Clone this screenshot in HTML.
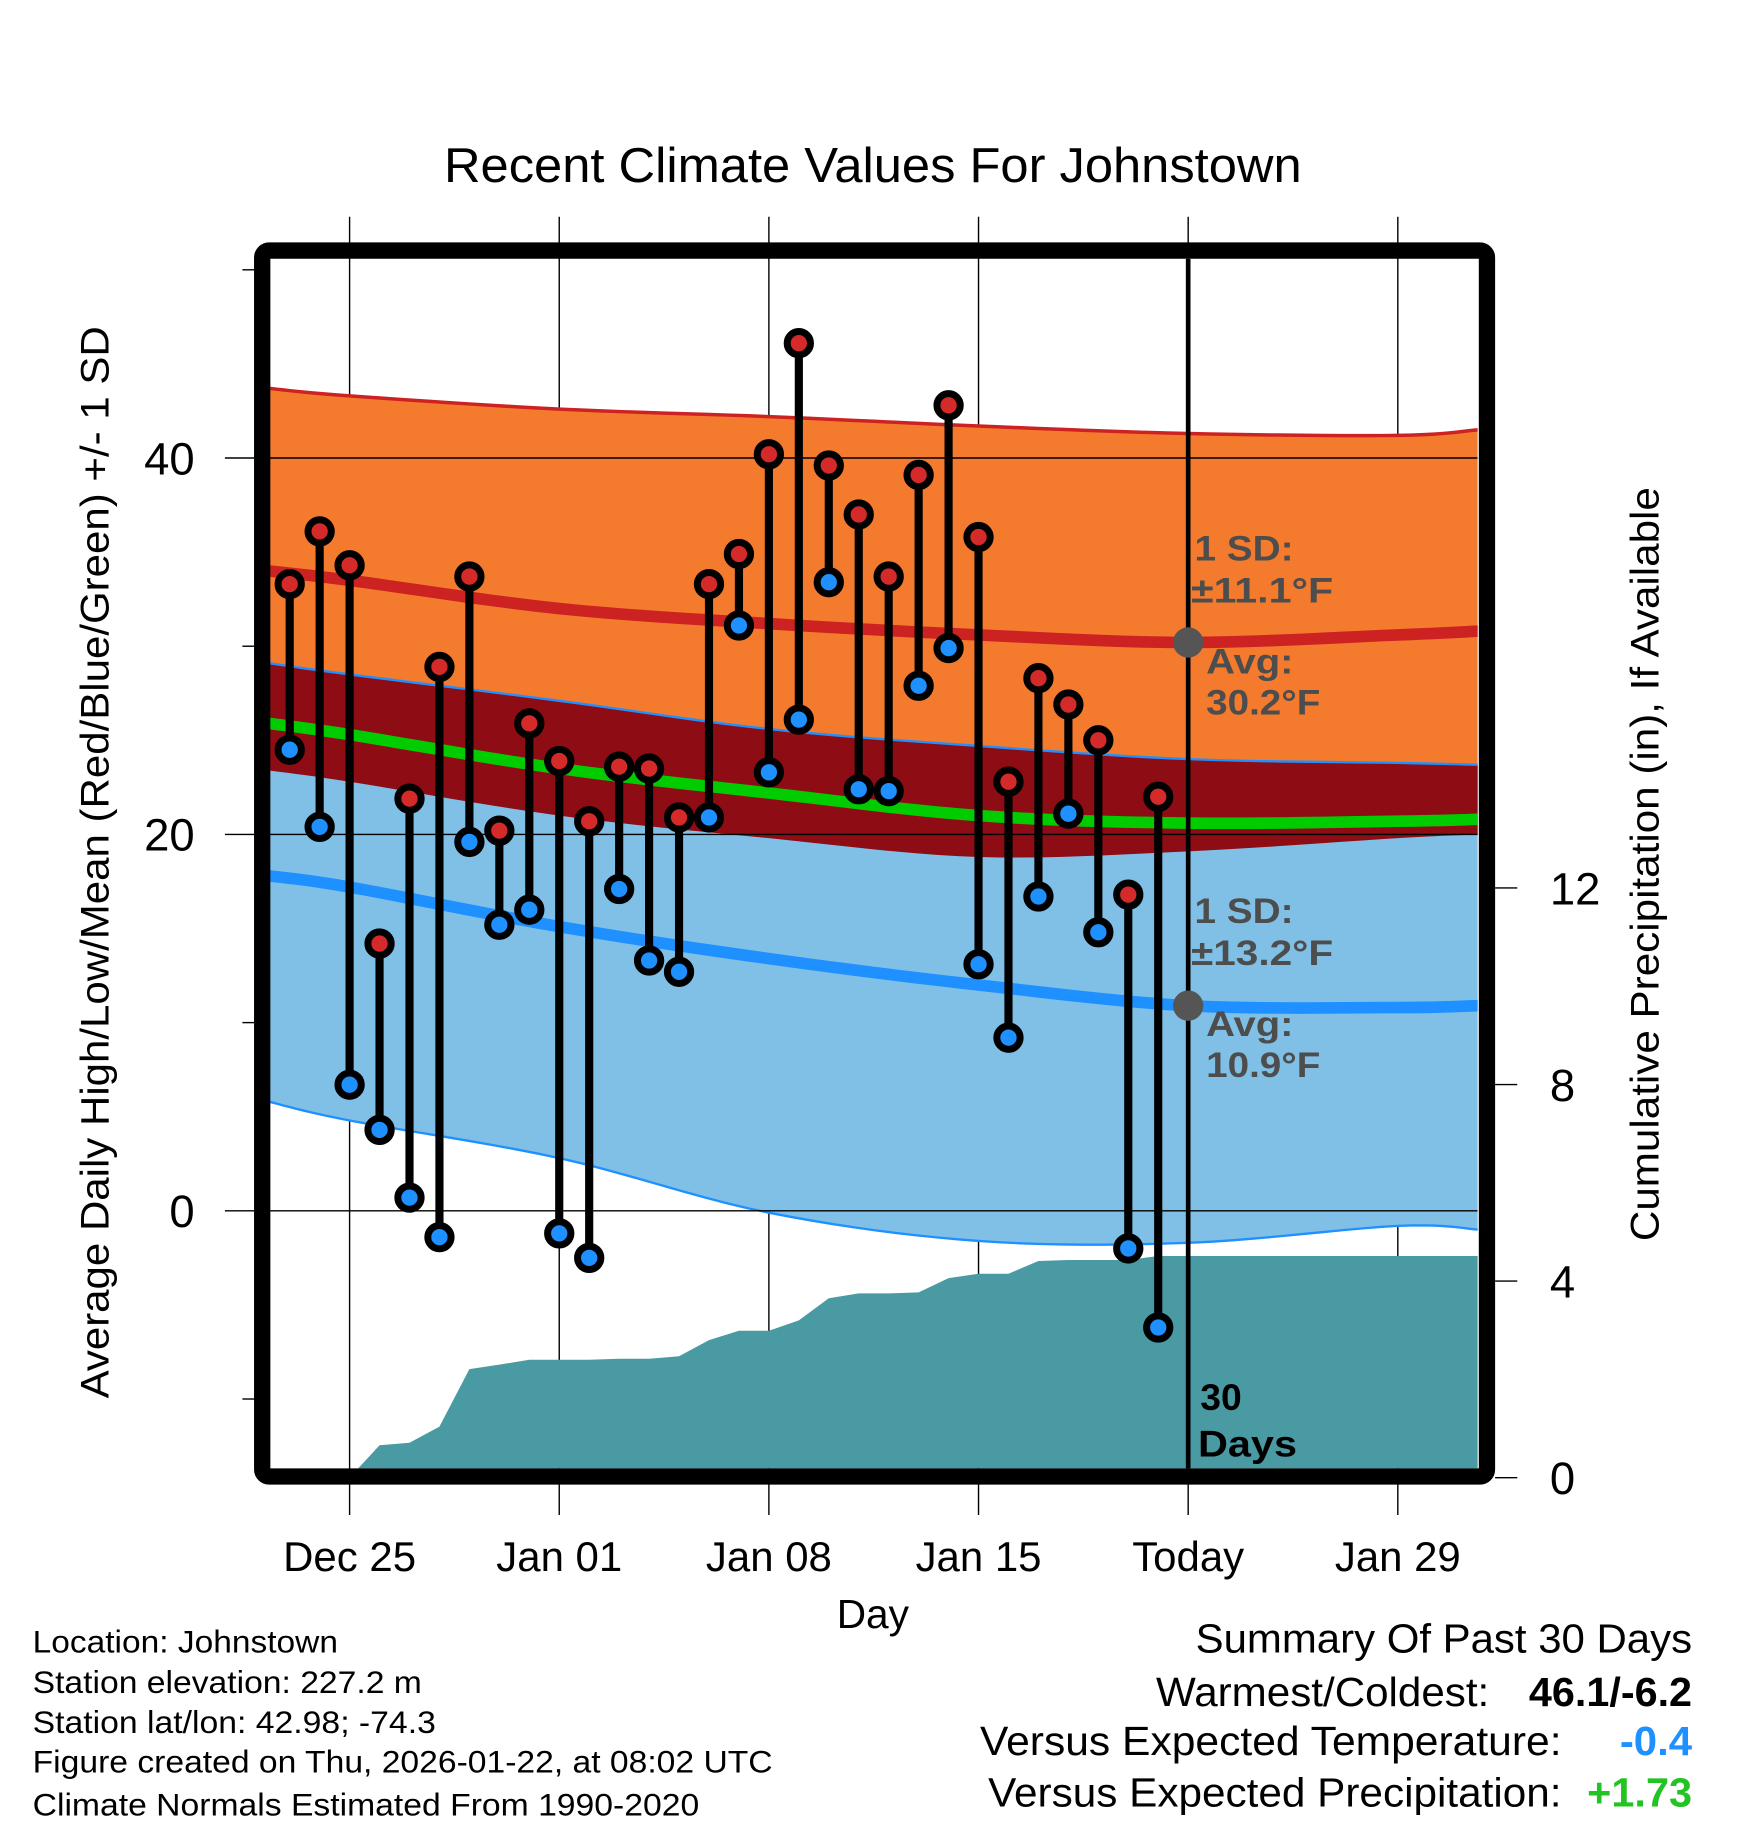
<!DOCTYPE html>
<html><head><meta charset="utf-8">
<style>
html,body{margin:0;padding:0;background:#fff;}
svg{display:block;font-family:"Liberation Sans",Arial,sans-serif;}
</style></head>
<body>
<svg id="chart" width="1748" height="1828" viewBox="0 0 1500 1568.6" xmlns="http://www.w3.org/2000/svg">
<defs><clipPath id="plotClip"><rect x="231" y="222" width="1037" height="1038"/></clipPath></defs>
<rect x="0" y="0" width="1500" height="1568.6" fill="#fff"/>
<text x="381" y="156" font-size="42" textLength="736" lengthAdjust="spacingAndGlyphs">Recent Climate Values For Johnstown</text>
<g id="grid"></g>
<g id="plot" clip-path="url(#plotClip)"></g>
<rect x="225" y="215" width="1051" height="1052" fill="none" stroke="#000" stroke-width="14" rx="6"/>
<g id="axes"></g>
<text transform="translate(93,1200) rotate(-90)" font-size="34" textLength="920" lengthAdjust="spacingAndGlyphs">Average Daily High/Low/Mean (Red/Blue/Green) +/- 1 SD</text>
<text transform="translate(1423,1065) rotate(-90)" font-size="34" textLength="647" lengthAdjust="spacingAndGlyphs">Cumulative Precipitation (in), If Available</text>
<text x="718" y="1397" font-size="35" textLength="62" lengthAdjust="spacingAndGlyphs">Day</text>
<g font-size="27">
<text x="28" y="1418" textLength="262" lengthAdjust="spacingAndGlyphs">Location: Johnstown</text>
<text x="28" y="1453" textLength="334" lengthAdjust="spacingAndGlyphs">Station elevation: 227.2 m</text>
<text x="28" y="1487" textLength="346" lengthAdjust="spacingAndGlyphs">Station lat/lon: 42.98; -74.3</text>
<text x="28" y="1521" textLength="635" lengthAdjust="spacingAndGlyphs">Figure created on Thu, 2026-01-22, at 08:02 UTC</text>
<text x="28" y="1558" textLength="572" lengthAdjust="spacingAndGlyphs">Climate Normals Estimated From 1990-2020</text>
</g>
<g font-size="35">
<text x="1026" y="1418" textLength="426" lengthAdjust="spacingAndGlyphs">Summary Of Past 30 Days</text>
<text x="992" y="1464" textLength="286" lengthAdjust="spacingAndGlyphs">Warmest/Coldest:</text>
<text x="1312" y="1464" font-weight="bold" textLength="140" lengthAdjust="spacingAndGlyphs">46.1/-6.2</text>
<text x="841" y="1506" textLength="499" lengthAdjust="spacingAndGlyphs">Versus Expected Temperature:</text>
<text x="1390" y="1506" font-weight="bold" fill="#1e90ff" textLength="62" lengthAdjust="spacingAndGlyphs">-0.4</text>
<text x="848" y="1550" textLength="492" lengthAdjust="spacingAndGlyphs">Versus Expected Precipitation:</text>
<text x="1362" y="1550" font-weight="bold" fill="#22c322" textLength="90" lengthAdjust="spacingAndGlyphs">+1.73</text>
</g>
</svg>
<script>
const highs=[33.3,36.1,34.3,14.2,21.9,28.9,33.7,20.2,25.9,23.9,20.7,23.6,23.5,20.9,33.3,34.9,40.2,46.1,39.6,37.0,33.7,39.1,42.8,35.8,22.8,28.3,26.9,25.0,16.8,22.0];
const lows=[24.5,20.4,6.7,4.3,0.7,-1.4,19.6,15.2,16.0,-1.2,-2.5,17.1,13.3,12.7,20.9,31.1,23.3,26.1,33.4,22.4,22.3,27.9,29.9,13.1,9.2,16.7,21.1,14.8,-2.0,-6.2];
const precip=[0,0,0,0.66,0.71,1.04,2.21,2.30,2.40,2.40,2.40,2.42,2.42,2.47,2.80,2.99,2.99,3.20,3.65,3.75,3.75,3.77,4.06,4.15,4.15,4.41,4.43,4.43,4.43,4.51,4.51];
const normDays=[-2.7,0,7,14,21,28,35,37.7];
const highUpper=[43.7,43.3,42.6,42.2,41.7,41.3,41.2,41.5];
const highAvg=[34.0,33.5,32.0,31.2,30.6,30.2,30.6,30.8];
const highLower=[23.4,22.8,21.0,19.8,18.8,19.1,19.8,20.0];
const lowUpper=[29.1,28.5,27.1,25.6,24.7,24.0,23.8,23.7];
const lowAvg=[17.8,17.2,15.1,13.4,12.0,10.9,10.8,10.9];
const lowLower=[5.8,4.8,2.8,-0.1,-1.6,-1.7,-0.8,-1.0];
const meanAvg=[25.9,25.3,23.5,22.2,21.0,20.6,20.7,20.8];
const xTickDays=[0,7,14,21,28,35];
const xTickLabels=["Dec 25","Jan 01","Jan 08","Jan 15","Today","Jan 29"];
const yTicks=[40,20,0];
const yMinorTicks=[50,30,10,-10];
const pTicks=[0,4,8,12];
const todayDay=28;

const NS="http://www.w3.org/2000/svg";
const X=d=>300+d*25.7;
const Y=t=>1039-t*16.15;
const P=p=>1268-p*42.17;
function mk(parent,tag,attrs){const e=document.createElementNS(NS,tag);for(const k in attrs)e.setAttribute(k,attrs[k]);parent.appendChild(e);return e;}
const plot=document.getElementById('plot'),grid=document.getElementById('grid'),axes=document.getElementById('axes');
// smooth interpolation (Catmull-Rom) through normal knots
function smoothPts(arr){
  const out=[];const n=normDays.length;
  for(let i=0;i<n-1;i++){
    const p0=[normDays[Math.max(i-1,0)],arr[Math.max(i-1,0)]],p1=[normDays[i],arr[i]],p2=[normDays[i+1],arr[i+1]],p3=[normDays[Math.min(i+2,n-1)],arr[Math.min(i+2,n-1)]];
    for(let s=0;s<10;s++){
      const t=s/10,t2=t*t,t3=t2*t;
      const f=(a,b,c,d)=>0.5*((2*b)+(-a+c)*t+(2*a-5*b+4*c-d)*t2+(-a+3*b-3*c+d)*t3);
      out.push(X(f(p0[0],p1[0],p2[0],p3[0]))+','+Y(f(p0[1],p1[1],p2[1],p3[1])));
    }
  }
  out.push(X(normDays[n-1])+','+Y(arr[n-1]));
  return out;
}
function band(top,bot,fill,name){
  const p=smoothPts(top).concat(smoothPts(bot).reverse());
  const e=mk(plot,'polygon',{points:p.join(' '),fill:fill});
  
  
}
function line(arr,color,w,name){
  const e=mk(plot,'polyline',{points:smoothPts(arr).join(' '),fill:'none',stroke:color,'stroke-width':w});
  
  
}
band(highUpper,highLower,'#f47a2e','high-sd-band');
band(lowUpper,lowLower,'#80c0e6','low-sd-band');
band(lowUpper,highLower,'#8e0c14','overlap-band');
line(highUpper,'#cc2222',3,'high-upper-edge');
line(lowUpper,'#1e90ff',2,'low-upper-edge');
line(lowLower,'#1e90ff',2,'low-lower-edge');
line(highAvg,'#cc2222',10,'avg-high-line');
line(lowAvg,'#1e90ff',10,'avg-low-line');
line(meanAvg,'#00cc00',10,'avg-mean-line');
yTicks.forEach(t=>{
  const g=mk(plot,'line',{x1:231,x2:1268,y1:Y(t),y2:Y(t),stroke:'#000','stroke-width':1.2});
  
  
});
xTickDays.forEach(d=>{
  const g=mk(grid,'line',{x1:X(d),x2:X(d),y1:186,y2:1300,stroke:'#000','stroke-width':1.2});
  
  
});
let pp=[];
precip.forEach((p,i)=>{pp.push(X(i-2)+','+P(p));});
pp.push(X(37.7)+','+P(precip[precip.length-1]));
pp.push(X(37.7)+','+P(0));
pp.push(X(-2)+','+P(0));
const pa=mk(plot,'polygon',{points:pp.join(' '),fill:'#4a9aa3'});


const tl=mk(plot,'line',{x1:X(todayDay),x2:X(todayDay),y1:222,y2:1260,stroke:'#000','stroke-width':4});


function txt(parent,x,y,s,attrs,name){const e=mk(parent,'text',Object.assign({x:x,y:y},attrs));e.textContent=s;return e;}
const ann={'font-size':30,'font-weight':'bold',fill:'#4d4d4d'};
const ti=normDays.indexOf(todayDay);
const d1=mk(plot,'circle',{cx:X(todayDay),cy:Y(highAvg[ti]),r:13,fill:'#555'});


const d2=mk(plot,'circle',{cx:X(todayDay),cy:Y(lowAvg[ti]),r:13,fill:'#555'});


txt(plot,1025,481,'1 SD:',Object.assign({textLength:85,lengthAdjust:'spacingAndGlyphs'},ann),'high-sd-label');
txt(plot,1022,517,'±11.1°F',Object.assign({textLength:122,lengthAdjust:'spacingAndGlyphs'},ann),'high-sd-value');
txt(plot,1035,578,'Avg:',Object.assign({textLength:75,lengthAdjust:'spacingAndGlyphs'},ann),'high-avg-label');
txt(plot,1035,613,'30.2°F',Object.assign({textLength:98,lengthAdjust:'spacingAndGlyphs'},ann),'high-avg-value');
txt(plot,1025,792,'1 SD:',Object.assign({textLength:85,lengthAdjust:'spacingAndGlyphs'},ann),'low-sd-label');
txt(plot,1022,828,'±13.2°F',Object.assign({textLength:122,lengthAdjust:'spacingAndGlyphs'},ann),'low-sd-value');
txt(plot,1035,889,'Avg:',Object.assign({textLength:75,lengthAdjust:'spacingAndGlyphs'},ann),'low-avg-label');
txt(plot,1035,924,'10.9°F',Object.assign({textLength:98,lengthAdjust:'spacingAndGlyphs'},ann),'low-avg-value');
txt(plot,1030,1210,'30',{'font-size':32,'font-weight':'bold'},'days-count');
txt(plot,1028,1250,'Days',{'font-size':32,'font-weight':'bold',textLength:85,lengthAdjust:'spacingAndGlyphs'},'days-label');
highs.forEach((h,i)=>{
  const x=X(i-2);
  const s=mk(plot,'line',{x1:x,x2:x,y1:Y(h),y2:Y(lows[i]),stroke:'#000','stroke-width':7});
  
  
});
highs.forEach((h,i)=>{
  const x=X(i-2);
  const a=mk(plot,'circle',{cx:x,cy:Y(h),r:10,fill:'#d42a2a',stroke:'#000','stroke-width':6});
  
  
  const b=mk(plot,'circle',{cx:x,cy:Y(lows[i]),r:10,fill:'#1e90ff',stroke:'#000','stroke-width':6});
  
  
});
yTicks.forEach(t=>{
  const k=mk(axes,'line',{x1:193,x2:218,y1:Y(t),y2:Y(t),stroke:'#000','stroke-width':1.2});
  
  
  txt(axes,167,Y(t)+14,String(t),{'font-size':39,'text-anchor':'end'},'y-tick-label');
});
yMinorTicks.forEach(t=>{
  const k=mk(axes,'line',{x1:208,x2:218,y1:Y(t),y2:Y(t),stroke:'#000','stroke-width':1.2});
  
  
});
pTicks.forEach(p=>{
  const k=mk(axes,'line',{x1:1283,x2:1302,y1:P(p),y2:P(p),stroke:'#000','stroke-width':1.2});
  
  
  txt(axes,1330,P(p)+14,String(p),{'font-size':39},'y2-tick-label');
});
xTickDays.forEach((d,i)=>{
  txt(axes,X(d),1348,xTickLabels[i],{'font-size':36,'text-anchor':'middle'},'x-tick-label');
});
</script>
</body></html>
